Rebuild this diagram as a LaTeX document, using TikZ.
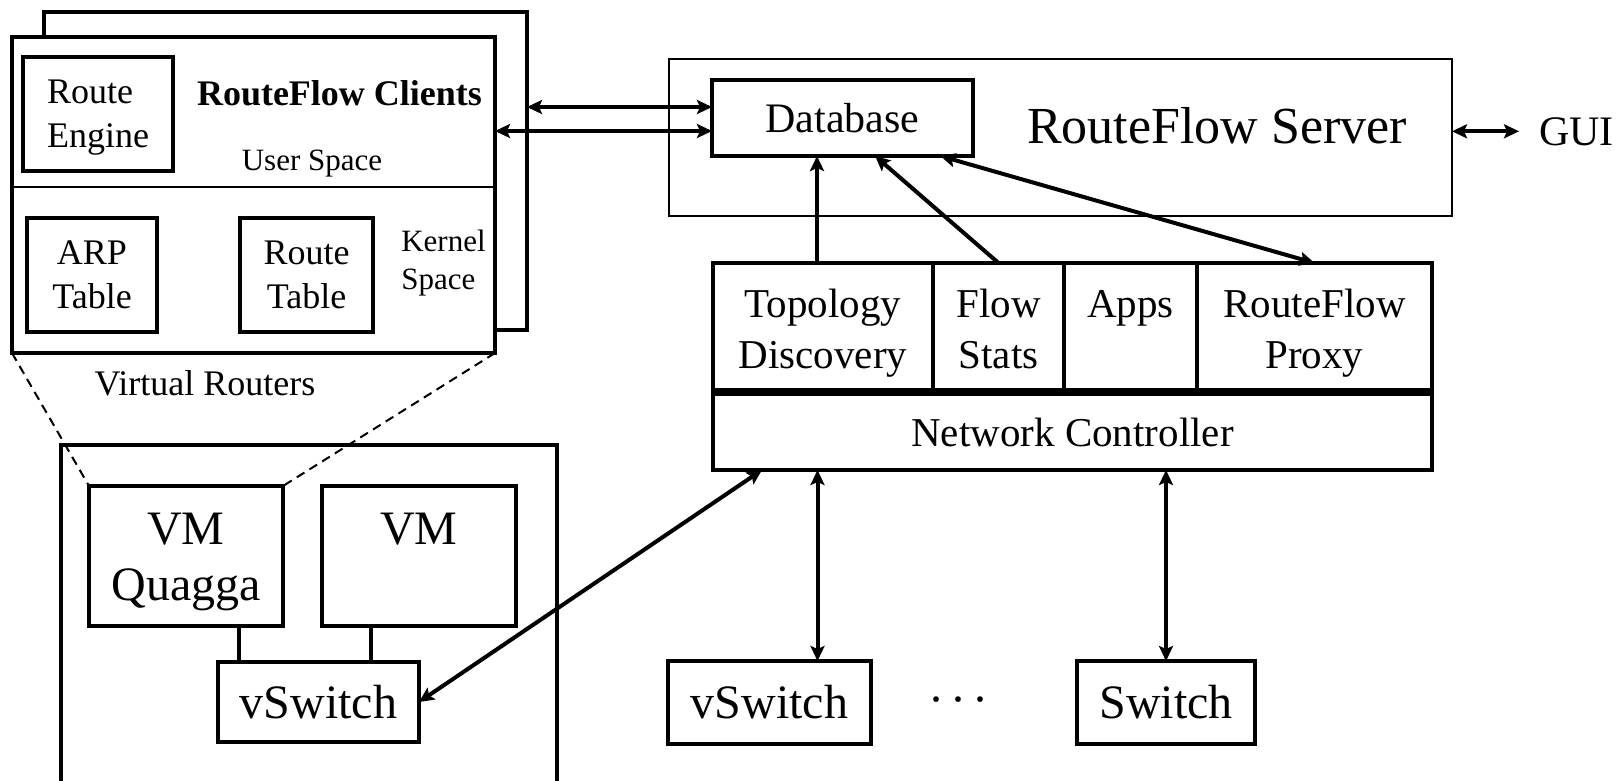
\documentclass[tikz,border=0pt]{standalone}
\usepackage{fontspec}
\setmainfont{Liberation Serif}
\usepackage{tikz}
\usetikzlibrary{arrows.meta, calc, positioning}

\tikzset{
    box/.style={draw, line width=4pt, fill=white, inner sep=0pt, outer sep=0pt, align=center},
    thinframe/.style={draw, line width=1.5pt, inner sep=0pt, outer sep=0pt},
    conn/.style={line width=4pt},
    biarrow/.style={conn, {Stealth[length=15pt,width=14pt,inset=3pt]}-{Stealth[length=15pt,width=14pt,inset=3pt]}},
    uniarrow/.style={conn, -{Stealth[length=15pt,width=14pt,inset=3pt]}},
    zoomline/.style={line width=2pt, dash pattern=on 9pt off 6pt},
    lbl/.style={align=center},
    fA/.style={font=\fontsize{41}{51}\selectfont},
    fB/.style={font=\fontsize{48}{56}\selectfont},
    fC/.style={font=\fontsize{36}{44}\selectfont},
    fCb/.style={font=\fontsize{36}{44}\selectfont\bfseries},
    fD/.style={font=\fontsize{31}{38}\selectfont},
}

\begin{document}
\begin{tikzpicture}[x=1pt, y=-1pt]
\useasboundingbox (0,0) rectangle (1624,780);

% virtual routers (stacked)
\node[box, minimum width=483, minimum height=318] (back) at (285.5,171) {};
\node[box, minimum width=483, minimum height=316] (vr) at (253.5,195) {};
\coordinate (usr) at (0,187);
\draw[line width=1.5pt] (vr.west |- usr) -- (vr.east |- usr);
\node[box, minimum width=150, minimum height=114] (eng) at (98,114) {};
\node[fC, align=left] (eng-t) at ([yshift=-4pt]eng.center) {Route\\Engine};
\node[fCb, anchor=base] (cli) at (339.5,105) {RouteFlow Clients};
\node[fD, anchor=base] (usp) at (312,170) {User Space};
\node[box, fC, minimum width=129.5, minimum height=114] (arp) at (92,275) {ARP\\Table};
\node[box, fC, minimum width=133, minimum height=114] (rtab) at (306.5,275) {Route\\Table};
\node[fD, align=left] (ksp) at (443.5,263) {Kernel\\Space};
\node[fC, anchor=base] (vrt) at (205,395) {Virtual Routers};

% server
\node[thinframe, minimum width=783, minimum height=157] (srv) at (1060.5,137.5) {};
\node[font=\fontsize{52}{60}\selectfont, anchor=base] (srvt) at (1217,143) {RouteFlow Server};
\node[box, font=\fontsize{42}{50}\selectfont, minimum width=261, minimum height=76] (db) at (842.5,118) {Database};
\node[font=\fontsize{42}{50}\selectfont, anchor=base west, inner sep=0pt] (gui) at (1539,145) {GUI};

% controller
\node[box, minimum width=220, minimum height=127] (topo) at (823,326.5) {};
\node[box, minimum width=131, minimum height=127, right=0pt of topo] (flow) {};
\node[box, minimum width=133, minimum height=127, right=0pt of flow] (apps) {};
\node[box, minimum width=235, minimum height=127, right=0pt of apps] (proxy) {};
\node[box, fA, minimum width=719, minimum height=76, below right=4pt and 0pt of topo.south west] (nc) {Network Controller};
\node[lbl, fA] (topo-t) at ([yshift=-6.5pt]topo.center) {Topology\\Discovery};
\node[lbl, fA] (flow-t) at ([yshift=-2pt]flow.center) {Flow\\Stats};
\node[fA, anchor=base] (apps-t) at ([yshift=9.5pt]apps.center) {Apps};
\node[lbl, fA] (proxy-t) at ([yshift=-6.5pt]proxy.center) {RouteFlow\\Proxy};

\draw[uniarrow] ([xshift=-6pt]topo.north) -- ([xshift=-6pt]topo.north |- db.south);
\draw[uniarrow] (flow.north) -- ($(db.south)!0.25!(db.south east)$);
\draw[biarrow] ($(db.south)!0.75!(db.south east)$) -- (proxy.north);
\coordinate (in1) at ([yshift=11pt]db.west);
\coordinate (in2) at ([yshift=-13pt]db.west);
\draw[biarrow] (back.east |- in1) -- (in1);
\draw[biarrow] (vr.east |- in2) -- (in2);
\draw[biarrow] (srv.east |- gui.center) -- ([xshift=-20pt]gui.west);

% host with VMs
\node[box, minimum width=496, minimum height=370] (host) at (309,630) {};
\node[box, minimum width=194, minimum height=140] (vmq) at (186,556) {};
\node[lbl, fB] (vmq-t) at ([yshift=-6pt]vmq.center) {VM\\Quagga};
\node[box, minimum width=194, minimum height=140] (vm) at (419,556) {};
\node[fB, anchor=base] (vm-t) at ([yshift=12pt]vm.center) {VM};
\node[box, fB, minimum width=201, minimum height=80] (vsw) at (318.5,702) {vSwitch};
\draw[conn] ([xshift=21pt]vsw.north west) -- ([xshift=21pt]vsw.north west |- vmq.south);
\draw[conn] ([xshift=153pt]vsw.north west) -- ([xshift=153pt]vsw.north west |- vm.south);
\draw[zoomline] (vr.south west) -- (vmq.north west);
\draw[zoomline] (vr.south east) -- (vmq.north east);

% switches
\node[box, fB, minimum width=203, minimum height=83] (vsw2) at (769.5,702.5) {vSwitch};
\node[fB] (dots) at (958,706) {·\hspace{6pt}·\hspace{6pt}·};
\node[box, fB, minimum width=178, minimum height=83] (sw) at (1166,702.5) {Switch};
\draw[biarrow] (vsw.east) -- ([xshift=49pt]nc.south west);
\draw[biarrow] ([xshift=48pt]vsw2.north) -- ([xshift=48pt]vsw2.north |- nc.south);
\draw[biarrow] (sw.north) -- (sw.north |- nc.south);
\end{tikzpicture}
\end{document}
